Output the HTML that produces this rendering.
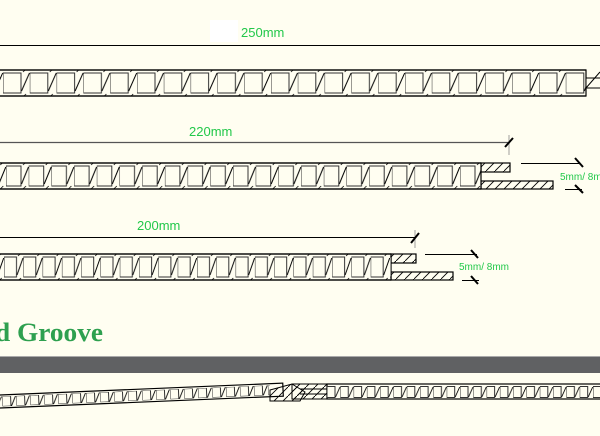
<!DOCTYPE html>
<html><head><style>
html,body{margin:0;padding:0;background:#fffef1;}
svg{display:block;}
</style></head><body>
<svg width="600" height="436" viewBox="0 0 600 436" xmlns="http://www.w3.org/2000/svg" font-family="Liberation Sans, sans-serif">
<defs>
<pattern id="c1" patternUnits="userSpaceOnUse" x="3" y="0" width="26.8" height="436">
  <rect x="0" y="73" width="18" height="20" fill="#fffef1" stroke="#333" stroke-width="1"/>
  <line x1="18.5" y1="91" x2="26.5" y2="73" stroke="#000" stroke-width="1"/>
  <line x1="20" y1="72" x2="23" y2="69" stroke="#000" stroke-width="0.8"/>
  <line x1="20" y1="97" x2="23" y2="94" stroke="#000" stroke-width="0.8"/>
</pattern>
<pattern id="c2" patternUnits="userSpaceOnUse" x="6" y="0" width="22.7" height="436">
  <rect x="0" y="166" width="15" height="20" fill="#fffef1" stroke="#333" stroke-width="1"/>
  <line x1="15.5" y1="184" x2="22.5" y2="167" stroke="#000" stroke-width="1"/>
  <line x1="17" y1="165" x2="20" y2="162" stroke="#000" stroke-width="0.8"/>
  <line x1="17" y1="189" x2="20" y2="186" stroke="#000" stroke-width="0.8"/>
</pattern>
<pattern id="c3" patternUnits="userSpaceOnUse" x="4" y="0" width="19.3" height="436">
  <rect x="0" y="257" width="12.5" height="20" fill="#fffef1" stroke="#333" stroke-width="1"/>
  <line x1="13" y1="275" x2="19" y2="258" stroke="#000" stroke-width="1"/>
  <line x1="14" y1="256" x2="17" y2="253" stroke="#000" stroke-width="0.8"/>
  <line x1="14" y1="281" x2="17" y2="278" stroke="#000" stroke-width="0.8"/>
</pattern>
<pattern id="c4" patternUnits="userSpaceOnUse" x="327" y="0" width="13.3" height="436">
  <rect x="0" y="386.5" width="8" height="11" fill="#fffef1" stroke="#333" stroke-width="1"/>
  <line x1="8.5" y1="397" x2="13" y2="387" stroke="#000" stroke-width="0.9"/>
</pattern>
<pattern id="c5" patternUnits="userSpaceOnUse" x="2" y="0" width="14" height="436">
  <rect x="0" y="0" width="8.5" height="10" fill="#fffef1" stroke="#333" stroke-width="1"/>
  <line x1="9" y1="10" x2="13.5" y2="0" stroke="#000" stroke-width="0.9"/>
</pattern>
<pattern id="h" patternUnits="userSpaceOnUse" width="9" height="9">
  <line x1="0" y1="9" x2="9" y2="0" stroke="#000" stroke-width="0.9"/>
</pattern>
</defs>

<!-- Panel 1 -->
<rect x="210" y="20" width="28" height="22" fill="#ffffff"/>
<text x="241" y="37" font-size="13" fill="#22c84a">250mm</text>
<line x1="0" y1="45.5" x2="600" y2="45.5" stroke="#000" stroke-width="1"/>
<rect x="-1" y="70" width="587" height="26" fill="#fffef1" stroke="#000" stroke-width="1.2"/>
<rect x="0" y="70" width="586" height="26" fill="url(#c1)"/>
<line x1="0" y1="70" x2="586" y2="70" stroke="#000" stroke-width="1.2"/>
<line x1="0" y1="96" x2="586" y2="96" stroke="#000" stroke-width="1.2"/>
<rect x="586" y="78" width="15" height="10" fill="#fffef1" stroke="#000" stroke-width="1"/>
<line x1="586" y1="88" x2="600" y2="72" stroke="#000"/>

<!-- Panel 2 -->
<text x="189" y="136" font-size="13" fill="#22c84a">220mm</text>
<line x1="0" y1="142.5" x2="510" y2="142.5" stroke="#555" stroke-width="1.2"/>
<line x1="509" y1="135" x2="509" y2="155" stroke="#888" stroke-width="0.8"/>
<line x1="505" y1="147" x2="513" y2="138" stroke="#000" stroke-width="2"/>
<rect x="481" y="163" width="29" height="9" fill="url(#h)" stroke="#000" stroke-width="1.2"/>
<rect x="481" y="181" width="72" height="8" fill="url(#h)" stroke="#000" stroke-width="1.2"/>
<rect x="-1" y="163" width="482" height="26" fill="#fffef1" stroke="#000" stroke-width="1.2"/>
<rect x="0" y="163" width="481" height="26" fill="url(#c2)"/>
<line x1="0" y1="163" x2="481" y2="163" stroke="#000" stroke-width="1.2"/>
<line x1="0" y1="189" x2="481" y2="189" stroke="#000" stroke-width="1.2"/>
<line x1="521" y1="163.5" x2="580" y2="163.5" stroke="#000" stroke-width="1"/>
<line x1="575" y1="158" x2="583" y2="167" stroke="#000" stroke-width="2"/>
<line x1="565" y1="189.5" x2="582" y2="189.5" stroke="#000" stroke-width="1"/>
<line x1="575" y1="185" x2="583" y2="193" stroke="#000" stroke-width="2"/>
<text x="560" y="180" font-size="10" fill="#22c84a">5mm/ 8mm</text>

<!-- Panel 3 -->
<text x="137" y="230" font-size="13" fill="#22c84a">200mm</text>
<line x1="0" y1="237.5" x2="416" y2="237.5" stroke="#000" stroke-width="1"/>
<line x1="415" y1="230" x2="415" y2="248" stroke="#888" stroke-width="0.8"/>
<line x1="411" y1="243" x2="419" y2="233" stroke="#000" stroke-width="2"/>
<rect x="391" y="254" width="25" height="9" fill="url(#h)" stroke="#000" stroke-width="1.2"/>
<rect x="391" y="272" width="62" height="8" fill="url(#h)" stroke="#000" stroke-width="1.2"/>
<rect x="-1" y="254" width="392" height="26" fill="#fffef1" stroke="#000" stroke-width="1.2"/>
<rect x="0" y="254" width="391" height="26" fill="url(#c3)"/>
<line x1="0" y1="254" x2="391" y2="254" stroke="#000" stroke-width="1.2"/>
<line x1="0" y1="280" x2="391" y2="280" stroke="#000" stroke-width="1.2"/>
<line x1="425" y1="254.5" x2="477" y2="254.5" stroke="#000" stroke-width="1"/>
<line x1="471" y1="250" x2="478" y2="258" stroke="#000" stroke-width="2"/>
<line x1="462" y1="280.5" x2="479" y2="280.5" stroke="#000" stroke-width="1"/>
<line x1="471" y1="276" x2="478" y2="284" stroke="#000" stroke-width="2"/>
<text x="459" y="270" font-size="10" fill="#22c84a">5mm/ 8mm</text>

<!-- Heading -->
<text x="-5" y="341" font-family="Liberation Serif, serif" font-weight="bold" font-size="26" fill="#2ea04f" textLength="108" lengthAdjust="spacingAndGlyphs">d Groove</text>
<rect x="0" y="356" width="600" height="1.5" fill="#aaa"/>
<rect x="0" y="357" width="600" height="16" fill="#606163"/>

<!-- Bottom panel -->
<g transform="translate(0,395) rotate(-2.4)">
  <rect x="-2" y="0" width="285" height="13" fill="#fffef1" stroke="#000" stroke-width="1.2"/>
  <g transform="translate(0,1.5)"><rect x="0" y="0" width="270" height="10" fill="url(#c5)"/></g>
</g>
<polygon points="270,390 292,384 305,392 300,401 270,401" fill="url(#h)" stroke="#000" stroke-width="1"/>
<rect x="292" y="384" width="35" height="15" fill="url(#h)" stroke="#000" stroke-width="1"/>
<line x1="300" y1="389" x2="327" y2="389" stroke="#000"/>
<line x1="300" y1="394" x2="327" y2="394" stroke="#000"/>
<rect x="327" y="384" width="275" height="15" fill="#fffef1" stroke="#000" stroke-width="1.2"/>
<rect x="327" y="384" width="275" height="15" fill="url(#c4)"/>
</svg>
</body></html>
